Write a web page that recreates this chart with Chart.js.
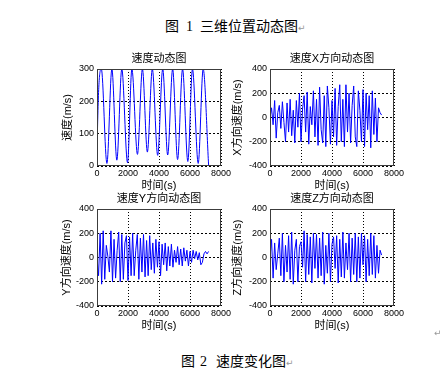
<!DOCTYPE html>
<html>
<head>
<meta charset="utf-8">
<script src="https://cdn.jsdelivr.net/npm/chart.js@4"></script>
<style>
  body { margin: 0; background: #fff; }
  #page { position: relative; width: 446px; height: 380px; overflow: hidden; background: #fff; }
  canvas { position: absolute; }
  .cap { position: absolute; font-family: 'Noto Sans CJK SC', sans-serif; font-size: 14px; line-height: 14px; color: #000; white-space: nowrap; }
  .num { font-family: 'Liberation Serif', serif; }
  .ret { font-family: 'DejaVu Sans', sans-serif; font-size: 9px; color: #999; }
</style>
</head>
<body>
<div id="page">
  <div class="cap" style="left:165px; top:18px">图<span class="num" style="margin:0 7px">1</span>三维位置动态图<span class="ret">↵</span></div>
  <canvas id="c1" width="200" height="147" style="left:37px; top:47px"></canvas>
  <canvas id="c2" width="200" height="147" style="left:210px; top:47px"></canvas>
  <canvas id="c3" width="200" height="147" style="left:37px; top:187px"></canvas>
  <canvas id="c4" width="200" height="147" style="left:210px; top:187px"></canvas>
  <span class="ret" style="position:absolute; left:434px; top:328px">↵</span>
  <div class="cap" style="left:181px; top:353px">图<span class="num" style="margin:0 9px 0 5px">2</span>速度变化图<span class="ret">↵</span></div>
</div>
<script>
"use strict";

// tick labels
var timeTicks = [0, 2000, 4000, 6000, 8000];
var speedTicks = [0, 100, 200, 300];
var compTicks = [-400, -200, 0, 200, 400];

// speed magnitude: turning points
var speedTimes = [0, 30, 280, 640, 960, 1280, 1600, 1970, 2250, 2610, 2930, 3250, 3570, 3915, 4240, 4560, 4880, 5200, 5520, 5860, 6160, 6530, 6850, 7200];
var speedValues = [0, 110, 300, 8, 300, 18, 300, 10, 300, 36, 300, 43, 300, 33, 300, 34, 300, 20, 300, 14, 300, 8, 300, 3];

// velocity components, one sample every 100 s
var sampleStep = 100;
var velX = [0, 80, -60, 140, -170, 40, 100, -90, 130, -40,
	-200, 120, -120, 150, -150, 60, -210, 140, -80, 200,
	-200, 70, 180, -120, 210, -220, 90, -60, 220, -160,
	150, -230, 250, -100, -210, 180, -240, 260, 80, -220,
	140, -160, 240, -230, 90, 270, -200, 150, -240, 270,
	-120, 200, -210, 100, 260, -160, -240, 220, 60, -200,
	230, -240, 200, -100, 180, -250, 220, -140, 160, -200,
	80, 40, 20];
var velY = [0, -150, 200, -220, 220, -180, 100, 10, -120, 220,
	-200, 150, -170, 60, 210, -200, 190, -180, 120, 180,
	-190, 170, -150, 200, -150, 60, 190, -180, 160, -120,
	190, -160, 140, -150, 180, -100, 120, -130, 150, -80,
	130, -150, 110, -60, 120, -110, 90, -70, 110, -80,
	60, -40, 90, -60, 70, -70, 80, -30, 60, -70,
	50, -40, 60, -10, 50, -20, 40, -60, -40, 30,
	50, 30, 50];
var velZ = [0, 150, -170, 120, -100, 30, 160, -150, 200, -200,
	100, -120, 180, -180, 210, -220, 60, 150, -200, 90,
	130, -80, 220, -200, 190, -140, 170, -210, 200, -90,
	190, -170, 160, -150, 210, -220, 100, -130, 200, -200,
	110, 170, -90, 180, -210, 150, -160, 210, -170, 120,
	-100, 200, -200, 160, -140, 200, -200, 170, -170, 200,
	-60, 180, -200, 150, -150, 200, -140, 180, -170, 100,
	-130, 60, 20];

var FONT = "'Liberation Sans', 'Noto Sans CJK SC', sans-serif";

// full box round the axes, like matlab
var axesBox = {
	id: 'axesBox',
	afterDraw: function (chart) {
		var a = chart.chartArea;
		var ctx = chart.ctx;
		ctx.save();
		ctx.strokeStyle = '#3c3c3c';
		ctx.lineWidth = 1;
		ctx.strokeRect(Math.round(a.left) + 0.5, Math.round(a.top) + 0.5,
			Math.round(a.right - a.left) - 1, Math.round(a.bottom - a.top) - 1);
		ctx.restore();
	}
};

function toPoints(values) {
	return values.map(function (v, i) { return { x: i * sampleStep, y: v }; });
}

function pairPoints(xs, ys) {
	return xs.map(function (x, i) { return { x: x, y: ys[i] }; });
}

function fixedTicks(list) {
	return function (scale) {
		scale.ticks = list.map(function (v) { return { value: v }; });
	};
}

function MakePlot(canvasId, title, yTitle, yTitlePad, points, yMin, yMax, yTickList, smooth) {
	return new Chart(document.getElementById(canvasId), {
		type: 'line',
		data: {
			datasets: [{
				data: points,
				borderColor: '#0000ff',
				borderWidth: 1,
				pointRadius: 0,
				fill: false,
				cubicInterpolationMode: smooth ? 'monotone' : 'default',
				tension: 0
			}]
		},
		options: {
			responsive: false,
			animation: false,
			events: [],
			layout: { padding: { top: 0, left: 0, right: 16, bottom: 0 } },
			plugins: {
				legend: { display: false },
				tooltip: { enabled: false },
				title: {
					display: true,
					text: title,
					fullSize: false,
					color: '#000',
					font: { family: FONT, size: 11, weight: 'normal' },
					padding: { top: 5.4, bottom: 3.4 }
				}
			},
			scales: {
				x: {
					type: 'linear',
					min: 0,
					max: 8000,
					afterBuildTicks: fixedTicks(timeTicks),
					afterFit: function (s) { s.height = 28; },
					grid: { color: '#000', lineWidth: 1, drawTicks: false },
					border: { display: false, dash: [1, 2] },
					ticks: {
						color: '#000',
						padding: 2.5,
						maxRotation: 0,
						font: { family: FONT, size: 9 },
						callback: function (v) { return String(v); }
					},
					title: {
						display: true,
						text: '时间(s)',
						color: '#000',
						font: { family: FONT, size: 11 },
						padding: { top: 0, bottom: 1.4 }
					}
				},
				y: {
					min: yMin,
					max: yMax,
					afterBuildTicks: fixedTicks(yTickList),
					afterFit: function (s) { s.width = 60; },
					grid: { color: '#000', lineWidth: 1, drawTicks: false },
					border: { display: false, dash: [2, 2] },
					ticks: {
						color: '#000',
						padding: 3,
						font: { family: FONT, size: 9 },
						callback: function (v) { return String(v); }
					},
					title: {
						display: true,
						text: yTitle,
						color: '#000',
						font: { family: FONT, size: 11 },
						padding: { top: yTitlePad, bottom: 0 }
					}
				}
			}
		},
		plugins: [axesBox]
	});
}

MakePlot('c1', '速度动态图', '速度(m/s)', 24.4, pairPoints(speedTimes, speedValues), 0, 300, speedTicks, true);
MakePlot('c2', '速度X方向动态图', 'X方向速度(m/s)', 21.7, toPoints(velX), -400, 400, compTicks, false);
MakePlot('c3', '速度Y方向动态图', 'Y方向速度(m/s)', 22.9, toPoints(velY), -400, 400, compTicks, false);
MakePlot('c4', '速度Z方向动态图', 'Z方向速度(m/s)', 21.7, toPoints(velZ), -400, 400, compTicks, false);
</script>
</body>
</html>
